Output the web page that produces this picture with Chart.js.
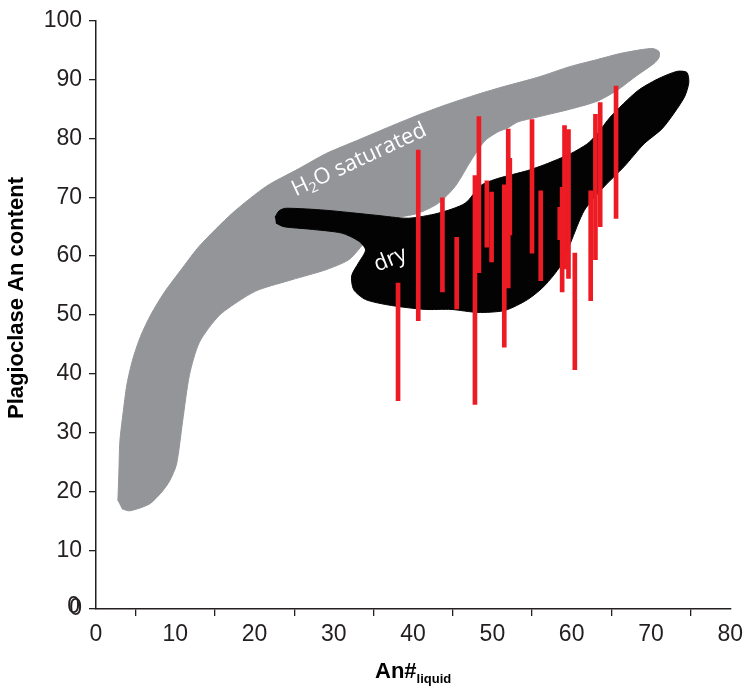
<!DOCTYPE html>
<html>
<head>
<meta charset="utf-8">
<script src="https://cdn.jsdelivr.net/npm/chart.js@4.4.1/dist/chart.umd.min.js"></script>
<style>
  body { margin: 0; background: #fff; }
  #wrap { width: 748px; height: 688px; }
</style>
</head>
<body>
<div id="wrap"><canvas id="chart" width="748" height="688"></canvas></div>
<script>
// red bars: An# of liquid, plagioclase An range (max / min)
const barX      = [38.1, 40.65, 43.7, 45.5, 47.8, 48.3, 49.3, 49.9, 51.5, 52.0, 52.2,
                   55.0, 56.1, 58.5, 58.8, 59.1, 59.6, 60.4, 62.4, 63.0, 63.6, 65.6];
const barTop    = [55.4, 78.0, 69.9, 63.2, 73.7, 83.7, 72.8, 70.9, 72.1, 81.6, 76.6,
                   83.2, 71.1, 68.3, 71.7, 82.2, 81.5, 60.5, 71.1, 84.1, 86.1, 88.9];
const barBottom = [35.4, 49.0, 53.9, 51.0, 34.8, 57.2, 61.5, 59.0, 44.5, 54.6, 63.6,
                   60.5, 55.8, 62.8, 53.9, 57.8, 56.2, 40.7, 52.4, 59.4, 65.0, 66.4];

// H2O saturated field outline
const wetX = [2.76, 2.89, 3.01, 3.39, 3.90, 4.60, 5.60, 6.90, 8.60, 10.92, 13.05,
              17.19, 21.46, 25.60, 28.98, 33.12, 37.26, 40.65, 44.04, 48.18, 51.57, 55.71,
              59.85, 63.24, 66.12, 68.88, 70.26, 71.02, 71.02, 70.39, 68.26, 65.75, 63.24,
              59.85, 55.71, 53.20, 51.94, 50.69, 49.06, 47.30, 45.30, 43.16, 40.65, 38.14,
              35.63, 34.38, 33.50, 31.87, 28.98, 24.72, 20.58, 18.70, 15.56, 13.05, 11.79,
              10.92, 10.16, 9.28, 8.41, 6.78, 4.27, 3.26];
const wetY = [18.38, 23.44, 28.50, 33.05, 38.20, 42.30, 46.30, 50.00, 53.80, 58.01, 61.72,
              67.29, 71.84, 74.87, 77.40, 79.76, 82.12, 83.98, 85.67, 87.52, 88.87, 90.39,
              92.24, 93.42, 94.44, 95.11, 95.28, 94.77, 93.76, 92.75, 90.73, 88.20, 86.34,
              84.99, 83.64, 82.80, 81.79, 81.11, 79.60, 76.22, 71.84, 68.97, 67.29, 66.61,
              65.94, 63.58, 61.72, 59.36, 57.67, 55.99, 54.30, 52.95, 49.92, 45.36, 39.80,
              31.87, 24.62, 21.75, 20.07, 17.88, 16.69, 17.03];

// dry field outline
const dryX = [22.58, 23.10, 23.96, 28.98, 35.26, 39.40, 43.16, 46.55, 48.56, 50.69, 54.45, 56.59,
              59.85, 61.98, 63.24, 64.87, 68.26, 70.77, 73.27, 74.53, 74.78, 74.28, 73.02,
              71.39, 69.13, 66.62, 64.12, 61.61, 59.85, 58.59, 56.59, 54.45, 51.57, 48.18,
              44.79, 41.53, 37.26, 34.00, 32.50, 32.25, 33.12, 34.00, 33.12, 30.99, 26.85,
              23.70, 22.70];
const dryY = [66.60, 67.70, 68.13, 67.79, 66.95, 66.44, 67.29, 68.97, 72.01, 73.19, 74.54, 75.55,
              77.40, 79.09, 80.78, 83.64, 88.03, 90.05, 91.40, 91.23, 89.54, 87.18, 84.49,
              81.62, 79.09, 75.21, 71.84, 67.79, 62.23, 58.35, 54.97, 52.61, 50.76, 50.42,
              50.93, 50.93, 51.60, 52.61, 54.30, 56.66, 58.85, 61.05, 62.56, 63.91, 64.59,
              65.00, 65.60];

// field labels
const fieldLabelX = [33.1, 37.1];
const fieldLabelY = [76.6, 59.5];

const inkColor = '#231F20';
const tickFont = { family: 'Liberation Sans, Arial, sans-serif', size: 23 };

const toPoints = (xs, ys) => xs.map((x, i) => ({ x: x, y: ys[i] }));

const labelPlugin = {
    id: 'labels',
    afterDatasetsDraw(chart) {
        const ctx = chart.ctx;
        const xs = chart.scales.x, ys = chart.scales.y;
        ctx.save();
        ctx.fillStyle = '#ffffff';
        ctx.textBaseline = 'alphabetic';

        // H2O saturated
        let px = xs.getPixelForValue(fieldLabelX[0]);
        let py = ys.getPixelForValue(fieldLabelY[0]);
        ctx.save();
        ctx.translate(px, py);
        ctx.rotate(-25 * Math.PI / 180);
        const big = '22px "Open Sans", sans-serif';
        const small = '14px "Open Sans", sans-serif';
        ctx.font = big;
        const wH = ctx.measureText('H').width;
        const wRest = ctx.measureText('O saturated').width;
        ctx.font = small;
        const w2 = ctx.measureText('2').width;
        let sx = -(wH + w2 + wRest) / 2;
        ctx.font = big;
        ctx.fillText('H', sx, 8);
        ctx.font = small;
        ctx.fillText('2', sx + wH, 12);
        ctx.font = big;
        ctx.fillText('O saturated', sx + wH + w2, 8);
        ctx.restore();

        // dry
        px = xs.getPixelForValue(fieldLabelX[1]);
        py = ys.getPixelForValue(fieldLabelY[1]);
        ctx.save();
        ctx.translate(px, py);
        ctx.rotate(-22 * Math.PI / 180);
        ctx.font = big;
        ctx.textAlign = 'center';
        ctx.fillText('dry', 0, 7);
        ctx.restore();

        ctx.restore();
    },
    afterDraw(chart) {
        const ctx = chart.ctx;
        const area = chart.chartArea;
        ctx.save();
        ctx.fillStyle = '#000000';
        // y title
        ctx.font = 'bold 22px "Liberation Sans", Arial, sans-serif';
        ctx.textAlign = 'center';
        ctx.textBaseline = 'middle';
        ctx.translate(17, 298);
        ctx.rotate(-Math.PI / 2);
        ctx.fillText('Plagioclase An content', 0, 0);
        ctx.restore();

        // stray second zero at the origin, as in the source figure
        ctx.save();
        ctx.fillStyle = inkColor;
        ctx.font = '23px "Liberation Sans", Arial, sans-serif';
        ctx.textAlign = 'right';
        ctx.textBaseline = 'middle';
        ctx.fillText('0', area.left - 16, chart.scales.y.getPixelForValue(0) - 2);
        ctx.restore();

        // x title with subscript
        ctx.save();
        ctx.fillStyle = '#000000';
        ctx.textBaseline = 'alphabetic';
        const main = 'bold 22px "Liberation Sans", Arial, sans-serif';
        const sub = 'bold 13px "Liberation Sans", Arial, sans-serif';
        ctx.font = main;
        const wMain = ctx.measureText('An#').width;
        ctx.font = sub;
        const wSub = ctx.measureText('liquid').width;
        const cx = (area.left + area.right) / 2;
        const x0 = cx - (wMain + wSub) / 2;
        ctx.font = main;
        ctx.fillText('An#', x0, 678);
        ctx.font = sub;
        ctx.fillText('liquid', x0 + wMain, 683);
        ctx.restore();
    }
};

const config = {
    type: 'scatter',
    data: {
        datasets: [
            {
                type: 'bar',
                data: barX.map((x, i) => ({ x: x, y: [barBottom[i], barTop[i]] })),
                backgroundColor: '#ED1C24',
                borderWidth: 0,
                barThickness: 4,
                order: 0
            },
            {
                data: toPoints(dryX, dryY),
                showLine: true,
                fill: 'shape',
                backgroundColor: '#030303',
                borderColor: '#030303',
                borderWidth: 1,
                tension: 0.25,
                pointRadius: 0,
                order: 1
            },
            {
                data: toPoints(wetX, wetY),
                showLine: true,
                fill: 'shape',
                backgroundColor: '#939598',
                borderColor: '#939598',
                borderWidth: 1,
                tension: 0.25,
                pointRadius: 0,
                order: 2
            }
        ]
    },
    options: {
        responsive: false,
        animation: false,
        layout: { padding: { top: 16, right: 14, left: 0, bottom: 0 } },
        plugins: {
            legend: { display: false },
            tooltip: { enabled: false }
        },
        scales: {
            x: {
                type: 'linear',
                min: 0,
                max: 80,
                offset: false,
                ticks: { stepSize: 10, color: inkColor, font: tickFont, padding: 5 },
                grid: { drawOnChartArea: false, drawTicks: true, tickLength: 7, color: inkColor, lineWidth: 1.3 },
                border: { display: true, color: inkColor, width: 1.5 },
                afterFit(scale) { scale.height = 79; }
            },
            y: {
                min: 0,
                max: 100,
                ticks: { stepSize: 10, color: inkColor, font: tickFont, padding: 7 },
                grid: { drawOnChartArea: false, drawTicks: true, tickLength: 7, color: inkColor, lineWidth: 1.3 },
                border: { display: true, color: inkColor, width: 1.5 },
                afterFit(scale) { scale.width = 96; }
            }
        }
    },
    plugins: [labelPlugin]
};

new Chart(document.getElementById('chart').getContext('2d'), config);
</script>
</body>
</html>
